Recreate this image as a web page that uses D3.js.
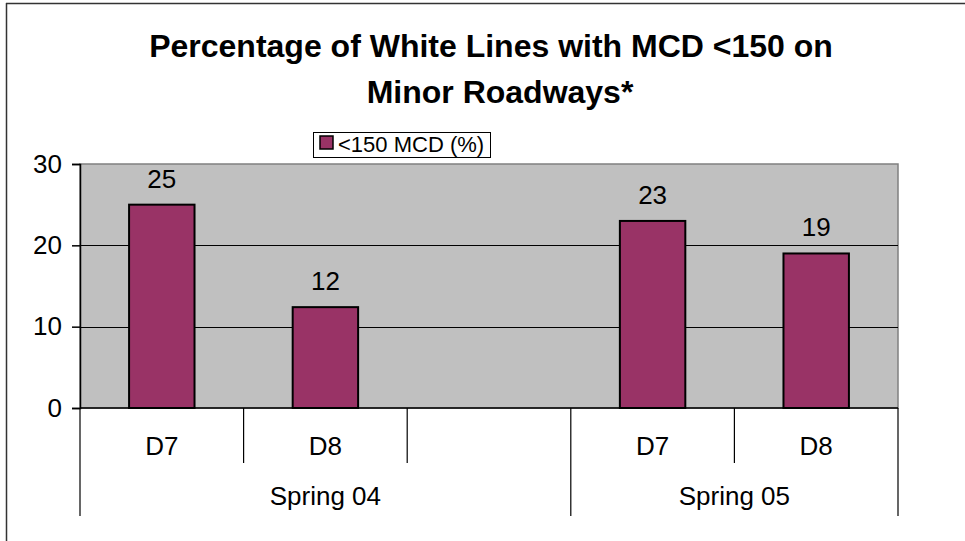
<!DOCTYPE html>
<html>
<head>
<meta charset="utf-8">
<script src="https://cdn.jsdelivr.net/npm/d3@7"></script>
<style>
  html, body { margin: 0; padding: 0; background: #fff; }
  svg { display: block; font-family: "Liberation Sans", Arial, sans-serif; }
</style>
</head>
<body>
<svg id="chart" width="965" height="541"></svg>
<script>
// ---- data ----
const titleLines = ["Percentage of White Lines with MCD <150 on", "Minor Roadways*"];
const seriesName = "<150 MCD (%)";
const slots = ["s0", "s1", "s2", "s3", "s4"];
const categoryLabels = ["D7", "D8", "", "D7", "D8"];
const values = [25, 12.4, null, 23, 19];
const groups = ["Spring 04", "Spring 05"];
const groupSpans = [[0, 2], [3, 4]];
const yTicks = [0, 10, 20, 30];

// ---- layout ----
const svg = d3.select("#chart");
const W = 965, H = 541;
const plot = { left: 80, right: 898, top: 164, bottom: 408 };
const barColor = "#993366";
const fs = 26;

// outer frame (left and top visible)
svg.append("line").attr("x1", 6.5).attr("x2", 6.5).attr("y1", 3).attr("y2", H)
  .attr("stroke", "#333").attr("stroke-width", 1.5);
svg.append("line").attr("x1", 6).attr("x2", W).attr("y1", 3.5).attr("y2", 3.5)
  .attr("stroke", "#333").attr("stroke-width", 1.5);

// title
const titleX = [491, 500];
const title = svg.append("text").attr("text-anchor", "middle")
  .attr("font-weight", "bold").attr("font-size", 32).attr("fill", "#000");
titleLines.forEach((t, i) => {
  title.append("tspan").attr("x", titleX[i]).attr("y", 57 + i * 46).text(t);
});

const x = d3.scaleBand().domain(slots).range([plot.left, plot.right]).paddingInner(0).paddingOuter(0);
const y = d3.scaleLinear().domain([0, 30]).range([plot.bottom, plot.top]);

// plot background
svg.append("rect").attr("x", plot.left).attr("y", plot.top)
  .attr("width", plot.right - plot.left).attr("height", plot.bottom - plot.top)
  .attr("fill", "#c0c0c0").attr("stroke", "#808080").attr("stroke-width", 1.5);

// gridlines
svg.append("g").selectAll("line").data(yTicks.filter(v => v > 0 && v < 30)).join("line")
  .attr("x1", plot.left).attr("x2", plot.right)
  .attr("y1", d => Math.round(y(d)) + 0.5).attr("y2", d => Math.round(y(d)) + 0.5)
  .attr("stroke", "#000").attr("stroke-width", 1);

// bars
const bw = x.bandwidth() * 0.4;
const data = slots.map((s, i) => ({ slot: s, v: values[i] })).filter(d => d.v != null);
svg.append("g").selectAll("rect").data(data).join("rect")
  .attr("x", d => x(d.slot) + (x.bandwidth() - bw) / 2)
  .attr("y", d => y(d.v))
  .attr("width", bw)
  .attr("height", d => y(0) - y(d.v))
  .attr("fill", barColor).attr("stroke", "#000").attr("stroke-width", 2);

// data labels
svg.append("g").selectAll("text").data(data).join("text")
  .attr("x", d => x(d.slot) + x.bandwidth() / 2)
  .attr("y", d => y(d.v) - 17)
  .attr("text-anchor", "middle").attr("font-size", fs).attr("fill", "#000")
  .text(d => d3.format(".0f")(d.v));

// y axis
const yAxis = svg.append("g").attr("transform", `translate(${plot.left},0)`)
  .call(d3.axisLeft(y).tickValues(yTicks).tickSize(8).tickPadding(10).tickFormat(d3.format("d")));
yAxis.select(".domain").attr("stroke", "#000").attr("stroke-width", 1.5);
yAxis.selectAll(".tick line").attr("stroke", "#000").attr("stroke-width", 1.5);
yAxis.selectAll(".tick text").attr("font-size", fs).attr("fill", "#000")
  .attr("font-family", "Liberation Sans, Arial, sans-serif");

// x axis line
svg.append("line").attr("x1", plot.left).attr("x2", plot.right)
  .attr("y1", plot.bottom).attr("y2", plot.bottom)
  .attr("stroke", "#000").attr("stroke-width", 1.5);

// category boundary ticks
const boundaries = d3.range(slots.length + 1);
const groupBounds = new Set([0, ...groupSpans.map(s => s[1] + 1)]);
svg.append("g").selectAll("line").data(boundaries).join("line")
  .attr("x1", i => i < slots.length ? x(slots[i]) : x(slots[slots.length - 1]) + x.bandwidth())
  .attr("x2", i => i < slots.length ? x(slots[i]) : x(slots[slots.length - 1]) + x.bandwidth())
  .attr("y1", plot.bottom)
  .attr("y2", i => groupBounds.has(i) ? 516 : 463)
  .attr("stroke", "#000").attr("stroke-width", 1.2);

// category labels
svg.append("g").selectAll("text").data(slots.map((s, i) => ({ s, t: categoryLabels[i] }))).join("text")
  .attr("x", d => x(d.s) + x.bandwidth() / 2)
  .attr("y", 455)
  .attr("text-anchor", "middle").attr("font-size", fs).attr("fill", "#000")
  .text(d => d.t);

// group labels
svg.append("g").selectAll("text").data(groups).join("text")
  .attr("x", (g, i) => (x(slots[groupSpans[i][0]]) + x(slots[groupSpans[i][1]]) + x.bandwidth()) / 2)
  .attr("y", 505)
  .attr("text-anchor", "middle").attr("font-size", fs).attr("fill", "#000")
  .text(g => g);

// legend
const lg = svg.append("g");
lg.append("rect").attr("x", 313.5).attr("y", 132.5).attr("width", 177).attr("height", 25)
  .attr("fill", "#fff").attr("stroke", "#000").attr("stroke-width", 1);
lg.append("rect").attr("x", 320).attr("y", 136).attr("width", 13).attr("height", 13)
  .attr("fill", barColor).attr("stroke", "#000").attr("stroke-width", 1.5);
lg.append("text").attr("x", 338).attr("y", 152).attr("font-size", 22).attr("fill", "#000")
  .text(seriesName);
</script>
</body>
</html>
